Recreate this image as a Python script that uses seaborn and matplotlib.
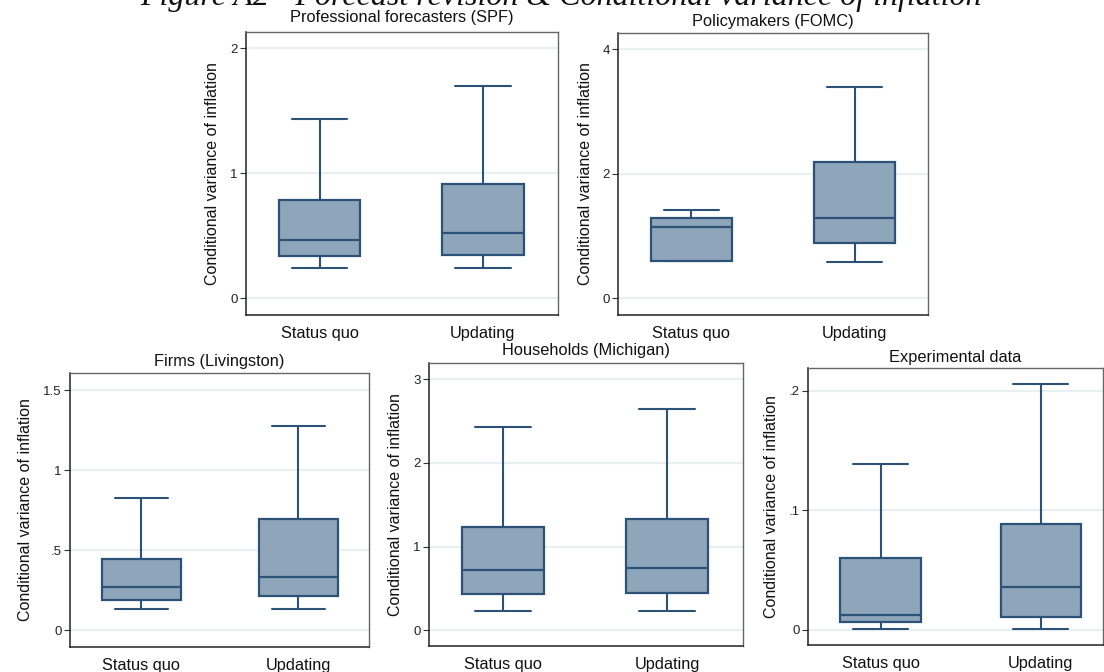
import numpy as np
import pandas as pd
import seaborn as sns
import matplotlib.pyplot as plt
from matplotlib.ticker import FuncFormatter

# five numbers per box: lower adjacent, q1, median, q3, upper adjacent
groups = ["Status quo", "Updating"]

spf_sq = [0.237, 0.336, 0.464, 0.784, 1.435]
spf_up = [0.237, 0.347, 0.517, 0.915, 1.70]

fomc_sq = [0.594, 0.594, 1.15, 1.285, 1.42]
fomc_up = [0.583, 0.888, 1.285, 2.185, 3.39]

liv_sq = [0.133, 0.192, 0.271, 0.444, 0.825]
liv_up = [0.133, 0.217, 0.333, 0.694, 1.279]

mich_sq = [0.231, 0.426, 0.717, 1.235, 2.43]
mich_up = [0.231, 0.446, 0.737, 1.327, 2.64]

exp_sq = [0.001, 0.0070, 0.0123, 0.060, 0.139]
exp_up = [0.001, 0.0106, 0.0357, 0.0887, 0.206]

titles = ["Professional forecasters (SPF)", "Policymakers (FOMC)",
          "Firms (Livingston)", "Households (Michigan)", "Experimental data"]
yticks = [[0, 1, 2], [0, 2, 4], [0, 0.5, 1, 1.5], [0, 1, 2, 3], [0, 0.1, 0.2]]
ylims = [(-0.136, 2.13), (-0.27, 4.26), (-0.104, 1.608), (-0.19, 3.195), (-0.0126, 0.219)]
panels = [(spf_sq, spf_up), (fomc_sq, fomc_up), (liv_sq, liv_up),
          (mich_sq, mich_up), (exp_sq, exp_up)]

W, H = 1104, 672
# axes boxes in pixels: left, right, top, bottom
boxes_px = [(246, 558, 32, 315), (618, 928, 33, 315),
            (70, 369, 373, 647), (429, 743, 363, 646), (808, 1103, 368, 645)]
xlims = [(-0.45, 1.46), (-0.45, 1.45), (-0.455, 1.45), (-0.45, 1.46), (-0.453, 1.39)]
title_pads = [7, 5, 5, 6, 4.5]

FILL = "#8fa5ba"
EDGE = "#2c5277"
GRID = "#e8f0f2"

sns.set_theme(style="white")
plt.rcParams["font.family"] = ["Liberation Sans", "DejaVu Sans"]

fig = plt.figure(figsize=(W / 100, H / 100), dpi=100)


def stata_fmt(v, pos):
    s = f"{v:g}"
    if s.startswith("0."):
        s = s[1:]
    return s


for i, (sq, up) in enumerate(panels):
    l, r, t, b = boxes_px[i]
    ax = fig.add_axes([l / W, 1 - b / H, (r - l) / W, (b - t) / H])
    df = pd.DataFrame({
        "group": [groups[0]] * len(sq) + [groups[1]] * len(up),
        "value": sq + up,
    })
    for yt in yticks[i]:
        ax.axhline(yt, color=GRID, lw=1.6, zorder=0)
    sns.boxplot(data=df, x="group", y="value", order=groups, ax=ax,
                whis=(0, 100), width=0.5, color=FILL, saturation=1,
                linecolor=EDGE, linewidth=1.6, showfliers=False,
                capwidths=0.34,
                boxprops=dict(facecolor=FILL, edgecolor=EDGE),
                medianprops=dict(color=EDGE, lw=1.6),
                whiskerprops=dict(color=EDGE, lw=1.5),
                capprops=dict(color=EDGE, lw=1.5))
    ax.set_xlim(*xlims[i])
    ax.set_ylim(*ylims[i])
    ax.set_yticks(yticks[i])
    ax.yaxis.set_major_formatter(FuncFormatter(stata_fmt))
    ax.set_xlabel("")
    ax.set_ylabel("Conditional variance of inflation", fontsize=11.5,
                  color="#111111", labelpad=7)
    ax.set_title(titles[i], fontsize=11.8, color="#111111", pad=title_pads[i])
    ax.tick_params(axis="y", length=4, width=0.8, color="#333333",
                   labelsize=9.5, labelcolor="#222222", left=True, pad=2)
    ax.tick_params(axis="x", length=0, labelsize=11.8, labelcolor="#111111", pad=8)
    for side in ["left", "bottom"]:
        ax.spines[side].set_color("#222222")
        ax.spines[side].set_linewidth(1.1)
    for side in ["top", "right"]:
        ax.spines[side].set_color("#666666")
        ax.spines[side].set_linewidth(1.0)

fig.text(0.508, 1 - 5 / H, "Figure A2 - Forecast revision & Conditional variance of inflation",
         ha="center", va="baseline", fontsize=23, style="italic",
         family=["Liberation Serif", "DejaVu Serif"], color="#111111")

fig.savefig("out.png", dpi=100)
